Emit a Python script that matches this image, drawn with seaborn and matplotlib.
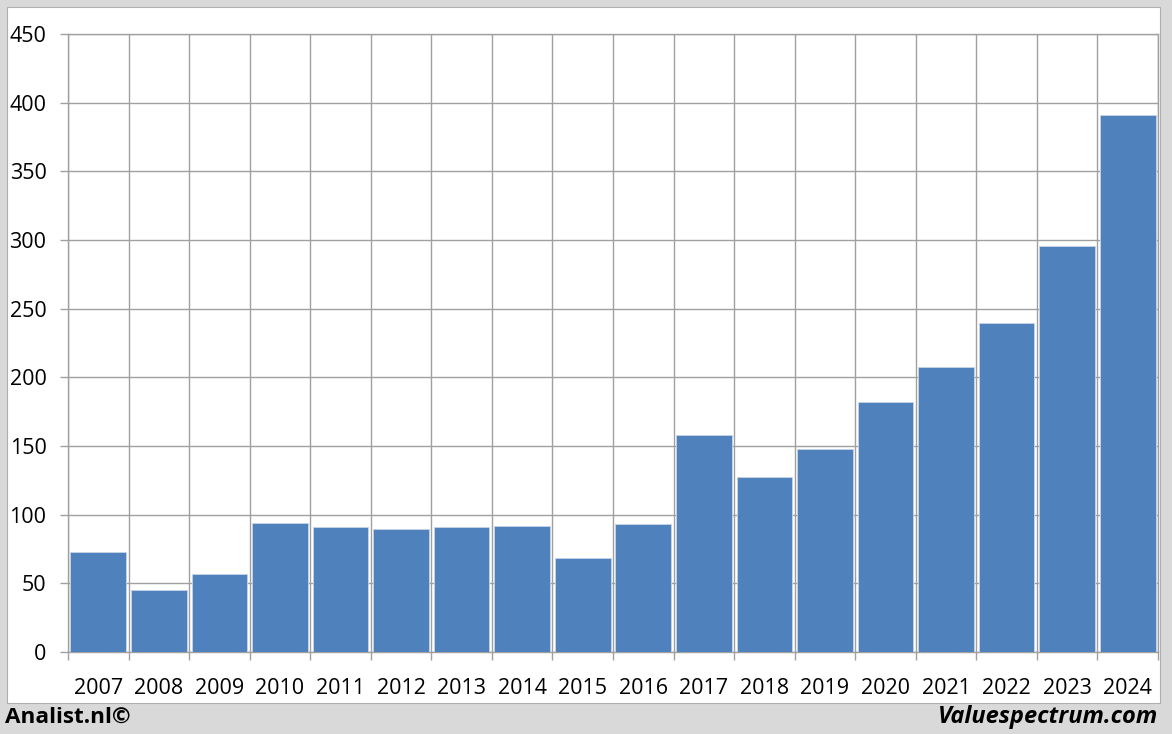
import matplotlib
matplotlib.use("Agg")
import matplotlib.pyplot as plt
from matplotlib.patches import Rectangle
from matplotlib.ticker import FixedLocator
import seaborn as sns
import pandas as pd

years = ["2007", "2008", "2009", "2010", "2011", "2012", "2013", "2014", "2015",
         "2016", "2017", "2018", "2019", "2020", "2021", "2022", "2023", "2024"]
values = [72.8, 45.1, 56.8, 93.7, 90.8, 89.3, 90.8, 91.7, 68.4,
          93.2, 157.8, 127.2, 148.0, 182.0, 207.3, 239.8, 295.9, 391.0]
y_ticks = [0, 50, 100, 150, 200, 250, 300, 350, 400, 450]

sns.set_theme(style="white")
plt.rcParams['font.family'] = ['Open Sans', 'DejaVu Sans']

W, H = 1172, 734
fig = plt.figure(figsize=(W / 100, H / 100), dpi=100, facecolor="#d9d9d9")
# white panel
panel = Rectangle((7 / W, (H - 703) / H), (1160 - 7) / W, (703 - 7) / H,
                  transform=fig.transFigure, facecolor="white",
                  edgecolor="#b0b0b0", linewidth=0.8, zorder=-10)
fig.patches.append(panel)

ax = fig.add_axes([68 / W, (H - 652) / H, (1158 - 68) / W, (652 - 34) / H])
ax.set_zorder(1)
ax.set_facecolor("white")

df = pd.DataFrame({"year": years, "value": values})
sns.barplot(data=df, x="year", y="value", color="#4f81bd", saturation=1,
            width=0.92, edgecolor="#c8d4e6", linewidth=0.6, ax=ax, zorder=3)

n = len(years)
ax.set_xlim(-0.5, n - 0.5)
ax.set_ylim(0, 450)
ax.set_yticks(y_ticks)
ax.set_yticklabels([str(v) for v in y_ticks])
ax.xaxis.set_minor_locator(FixedLocator([i - 0.5 for i in range(n + 1)]))

gc = "#a0a0a0"
ax.grid(True, which="major", axis="y", color=gc, linewidth=1.0, zorder=1)
ax.grid(True, which="minor", axis="x", color=gc, linewidth=1.0, zorder=1)
ax.grid(False, which="major", axis="x")
ax.set_axisbelow(True)

for s in ["left", "bottom", "top", "right"]:
    ax.spines[s].set_visible(True)
    ax.spines[s].set_color(gc)
    ax.spines[s].set_linewidth(1.0)

ax.tick_params(axis="x", which="major", length=0, pad=18.5, labelsize=15.5, labelcolor="black")
ax.tick_params(axis="x", which="minor", length=6, width=1.0, color=gc, bottom=True)
ax.tick_params(axis="y", which="major", length=6, width=1.0, color=gc, left=True,
               pad=9.5, labelsize=15.5, labelcolor="black")

ax.set_xlabel("")
ax.set_ylabel("")

fig.text(5 / W, 1 - 717 / H, "Analist.nl©", fontsize=16.2, fontweight="bold",
         ha="left", va="center", color="black")
fig.text(1158 / W, 1 - 717 / H, "Valuespectrum.com", fontsize=17, fontweight="bold",
         fontstyle="italic", ha="right", va="center", color="black")

fig.savefig("out.png", dpi=100, facecolor=fig.get_facecolor())
